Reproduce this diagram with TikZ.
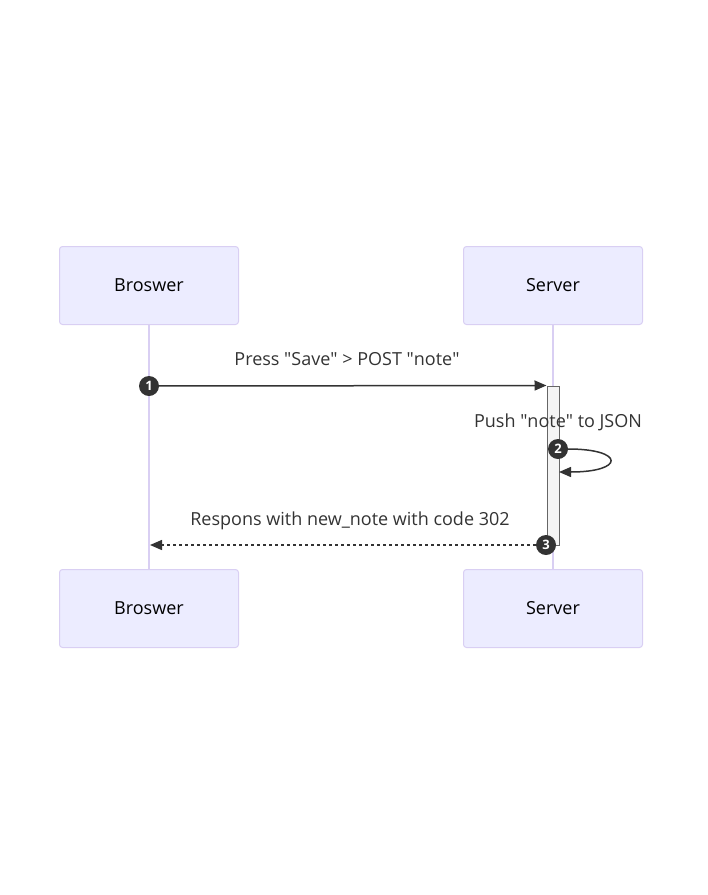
\documentclass[tikz,border=0pt]{standalone}
\usepackage{fontspec}
\setmainfont{Open Sans}
\usepackage{tikz}
\usetikzlibrary{arrows.meta, positioning}
\definecolor{actorfill}{HTML}{ECECFF}
\definecolor{actorline}{HTML}{D9CFF3}
\definecolor{ink}{HTML}{333333}
\definecolor{actfill}{HTML}{F4F4F4}
\definecolor{actline}{HTML}{666666}
\tikzset{
  actor/.style={
    rectangle, rounded corners=3pt, minimum width=179pt, minimum height=78pt,
    text centered, draw=actorline, fill=actorfill, line width=1pt,
    text=black, font=\fontsize{18}{21}\selectfont
  },
  lifeline/.style={draw=actorline, line width=1.5pt},
  msg/.style={
    -{Triangle[length=12pt,width=10pt]}, line width=1.5pt, color=ink
  },
  reply/.style={msg, dash pattern=on 3pt off 3pt},
  label/.style={text=ink, font=\fontsize{18}{21}\selectfont, inner sep=0pt},
  num/.style={
    circle, fill=ink, text=white, inner sep=0pt, minimum size=20pt,
    font=\fontsize{13}{15}\selectfont\bfseries
  },
  activation/.style={draw=actline, fill=actfill, line width=1pt}
}
\newcommand{\qt}{\textquotedbl}

\begin{document}
\begin{tikzpicture}[x=1pt, y=-1pt]
\useasboundingbox (0,0) rectangle (708,895);

\node[actor] (browser) at (149,285.5) {Broswer};
\node[actor] (server) at (553,285.5) {Server};
\node[actor] (browser_end) at (149,608.5) {Broswer};
\node[actor] (server_end) at (553,608.5) {Server};

\draw[lifeline] (browser) -- (browser_end);
\draw[lifeline] (server) -- (server_end);

\node[activation, rectangle, minimum width=12pt, minimum height=159pt, inner sep=0pt] (act) at (553,465.5) {};

% 1: request
\node[label] (press) at (347,359.5) {Press \qt Save\qt{} > POST \qt note\qt};
\node[num] (n1) at (149,386) {1};
\draw[msg] (n1) -- (act.north west);

% 2: self call
\node[label] (push) at (558,422.5) {Push \qt note\qt{} to JSON};
\coordinate (back) at (559,472);
\node[num] (n2) at (558,449) {2};
\draw[msg] (n2.east) .. controls (625,449) and (625,472) .. (back);

% 3: reply
\node[label] (respons) at (350,520.5) {Respons with new\_note with code 302};
\coordinate (browser_in) at (150,545);
\node[num] (n3) at (546,545) {3};
\draw[reply] (n3) -- (browser_in);

\end{tikzpicture}
\end{document}
